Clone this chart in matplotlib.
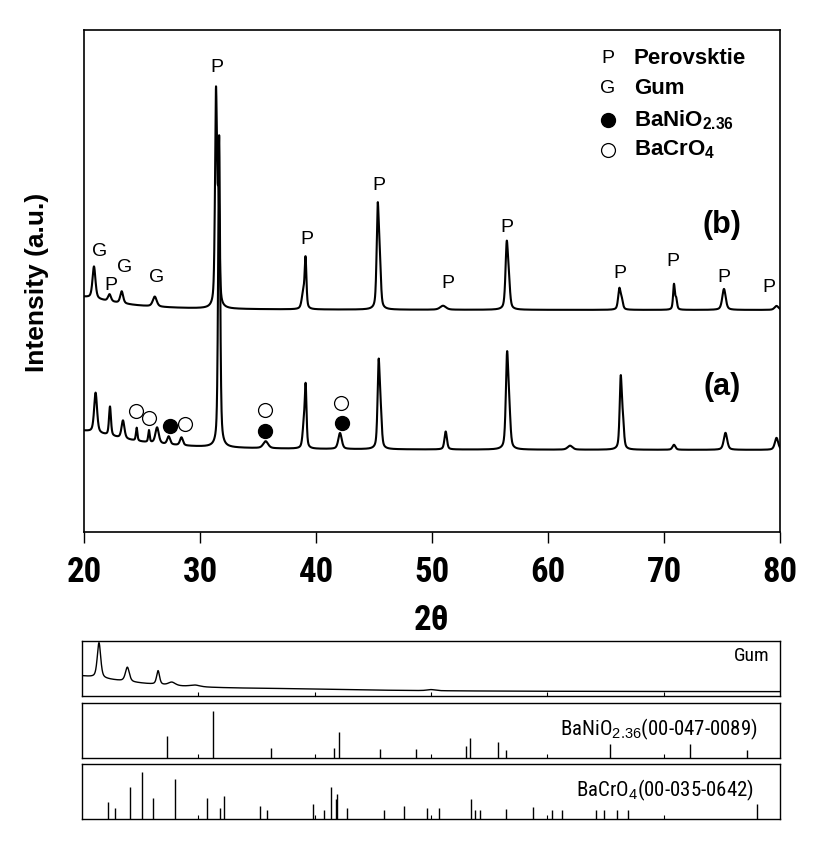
import numpy as np
import matplotlib
matplotlib.use("Agg")
import matplotlib.pyplot as plt
from matplotlib import font_manager as fm


def has_font(name):
    try:
        fm.findfont(fm.FontProperties(family=name), fallback_to_default=False)
        return True
    except Exception:
        return False


def pick_condensed():
    bold_names = {f.name for f in fm.fontManager.ttflist
                  if (isinstance(f.weight, int) and f.weight >= 700) or f.weight == "bold"}
    for cand in ["Liberation Sans Narrow", "Arial Narrow", "Roboto Condensed",
                 "Open Sans Condensed", "Noto Sans Condensed", "Asap Condensed",
                 "Barlow Semi Condensed", "Cabin Condensed"]:
        if cand in bold_names:
            return cand
    return "Liberation Sans" if has_font("Liberation Sans") else "DejaVu Sans"


SANS = "Liberation Sans" if has_font("Liberation Sans") else "DejaVu Sans"
NARROW = pick_condensed()
plt.rcParams["font.family"] = [SANS, "DejaVu Sans"]
plt.rcParams["mathtext.fontset"] = "custom"
plt.rcParams["mathtext.rm"] = SANS
plt.rcParams["mathtext.bf"] = SANS + ":bold"

# ---------------- data ----------------
X_MIN, X_MAX = 20, 80
x_ticks = [20, 30, 40, 50, 60, 70, 80]

# sample (a): background level, amorphous halo (centre, amplitude, hwhm), peaks
a_level = 82
a_halo = (19.0, 20.0, 5.0)
a_pos = [21.0, 22.24, 23.36, 24.54, 25.6, 26.3, 27.3, 28.4, 31.65, 35.66, 38.95, 39.11,
         42.07, 45.4, 45.58, 51.18, 56.47, 56.66, 61.9, 66.27, 66.46, 70.86, 75.3, 79.7]
a_height = [40, 29, 18, 13, 12, 16, 8, 8, 312, 7, 22, 58,
            16, 84, 30, 18, 90, 32, 4, 70, 24, 5, 17, 12]
a_fwhm = [0.3, 0.2, 0.3, 0.15, 0.15, 0.35, 0.3, 0.3, 0.2, 0.5, 0.25, 0.18,
          0.35, 0.22, 0.22, 0.25, 0.25, 0.25, 0.5, 0.22, 0.22, 0.3, 0.35, 0.35]

# sample (b)
b_level = 222
b_halo = (19.0, 14.0, 4.0)
b_pos = [20.86, 22.2, 23.25, 26.1, 31.38, 31.6, 38.9, 39.1, 45.32, 45.5, 50.95,
         56.44, 56.62, 66.15, 66.35, 70.86, 71.05, 75.17, 79.7]
b_height = [32, 7, 12, 10, 212, 100, 16, 48, 98, 42, 4,
            62, 24, 20, 9, 25, 10, 21, 4]
b_fwhm = [0.3, 0.3, 0.3, 0.4, 0.2, 0.2, 0.3, 0.18, 0.22, 0.22, 0.6,
          0.25, 0.25, 0.25, 0.25, 0.18, 0.18, 0.35, 0.4]

# phase markers on pattern (a)
bacro4_x = [24.45, 25.6, 28.7, 35.6, 42.15]
bacro4_y = [121, 114, 108, 122, 129]
banio_x = [27.4, 35.6, 42.2]
banio_y = [106, 101, 109]

# peak labels above the patterns
lbl_text = ["G", "P", "G", "G", "P", "P", "P", "P", "P", "P", "P", "P", "P"]
lbl_x = [21.32, 22.33, 23.47, 26.27, 31.44, 39.2, 45.43, 51.4, 56.49, 66.2, 70.8, 75.17, 79.0]
lbl_y = [280, 247, 264, 254, 464, 292, 347, 249, 305, 259, 270, 255, 245]

# Gum reference pattern
gum_level = 0.075
gum_halo = (18.0, 0.31, 7.0)
gum_hump = (38.0, 0.025, 8.0)
gum_pos = [21.46, 23.9, 26.54, 27.72, 29.7, 50.0]
gum_height = [0.64, 0.26, 0.25, 0.06, 0.03, 0.02]
gum_fwhm = [0.35, 0.4, 0.3, 0.7, 1.0, 0.8]

# BaNiO2.36 (00-047-0089) stick pattern
banio_pos = [27.27, 31.30, 36.26, 41.64, 42.09, 45.63, 48.69, 53.0, 53.36, 55.76,
             56.41, 65.36, 72.24, 77.17]
banio_int = [0.405, 0.863, 0.185, 0.185, 0.464, 0.167, 0.167, 0.22, 0.363, 0.286,
             0.149, 0.256, 0.256, 0.149]

# BaCrO4 (00-035-0642) stick pattern
bacro_pos = [22.23, 22.84, 24.10, 25.2, 26.14, 28.01, 30.74, 31.84, 32.24, 35.29,
             35.94, 39.89, 40.78, 41.43, 41.80, 41.96, 42.78, 45.95, 47.70, 49.65,
             50.67, 53.48, 53.76, 54.25, 56.45, 58.77, 60.44, 61.29, 64.22, 64.87,
             66.01, 66.91, 78.02]
bacro_int = [0.305, 0.198, 0.575, 0.862, 0.377, 0.719, 0.377, 0.198, 0.419, 0.234,
             0.162, 0.269, 0.162, 0.575, 0.359, 0.455, 0.198, 0.162, 0.234, 0.198,
             0.198, 0.359, 0.162, 0.162, 0.18, 0.216, 0.162, 0.162, 0.162, 0.162,
             0.162, 0.162, 0.269]


# ---------------- profile builder ----------------
tt = np.linspace(X_MIN, X_MAX, 6001)


def lorentz(x, c, amp, hwhm):
    return amp / (1.0 + ((x - c) / hwhm) ** 2)


def pattern(level, halos, pos, height, fwhm):
    y = np.full_like(tt, float(level))
    for c, amp, hw in halos:
        y += lorentz(tt, c, amp, hw)
    for c, h, w in zip(pos, height, fwhm):
        g = np.exp(-4 * np.log(2) * ((tt - c) / w) ** 2)
        l = 1.0 / (1.0 + ((tt - c) / (w / 2)) ** 2)
        y += h * (0.5 * g + 0.5 * l)
    return y


ya = pattern(a_level, [a_halo], a_pos, a_height, a_fwhm)
yb = pattern(b_level, [b_halo], b_pos, b_height, b_fwhm)
yg = pattern(gum_level, [gum_halo, gum_hump], gum_pos, gum_height, gum_fwhm)

# ---------------- figure ----------------
W, H = 836, 861
fig = plt.figure(figsize=(W / 100, H / 100), dpi=100)


def box(l, t, r, b):
    return [l / W, 1 - b / H, (r - l) / W, (b - t) / H]


ax = fig.add_axes(box(84, 30, 780, 532))
ax.plot(tt, ya, color="black", lw=1.5)
ax.plot(tt, yb, color="black", lw=1.5)
ax.plot(bacro4_x, bacro4_y, "o", ms=10, mfc="white", mec="black", mew=0.9, ls="none")
ax.plot(banio_x, banio_y, "o", ms=10, mfc="black", mec="black", ls="none")
for t, xx, yy in zip(lbl_text, lbl_x, lbl_y):
    ax.text(xx, yy, t, ha="center", va="center", fontsize=14, color="black")

ax.set_xlim(X_MIN, X_MAX)
ax.set_ylim(0, 502)
ax.set_yticks([])
ax.set_xticks(x_ticks)
ax.tick_params(axis="x", direction="out", length=8, width=1, pad=9, labelsize=25)
for lab in ax.get_xticklabels():
    lab.set_fontfamily([NARROW, "DejaVu Sans"])
    lab.set_fontweight("bold")
for s in ax.spines.values():
    s.set_linewidth(1.2)

# legend drawn by hand
leg_y = [0.944, 0.8825, 0.8207, 0.761]
ax.text(0.753, leg_y[0], "P", transform=ax.transAxes, ha="center", va="center", fontsize=14)
ax.text(0.753, leg_y[1], "G", transform=ax.transAxes, ha="center", va="center", fontsize=14)
ax.plot([0.753], [leg_y[2]], "o", ms=10, mfc="black", mec="black", transform=ax.transAxes)
ax.plot([0.753], [leg_y[3]], "o", ms=10, mfc="white", mec="black", mew=0.9, transform=ax.transAxes)
leg_txt = ["Perovsktie", "Gum", r"BaNiO$_\mathbf{2.36}$", r"BaCrO$_\mathbf{4}$"]
for t, yy in zip(leg_txt, leg_y):
    ax.text(0.790, yy, t, transform=ax.transAxes, ha="left", va="center",
            fontsize=16, fontweight="bold")

ax.text(0.9162, 0.6116, "(b)", transform=ax.transAxes, ha="center", va="center",
        fontsize=22, fontweight="bold")
ax.text(0.9162, 0.2894, "(a)", transform=ax.transAxes, ha="center", va="center",
        fontsize=22, fontweight="bold")

fig.text(37 / W, 1 - 282 / H, "Intensity (a.u.)", rotation=90, ha="center", va="center",
         fontsize=19, fontweight="bold")
fig.text(432 / W, 1 - 621 / H, "2θ", ha="center", va="center", fontsize=25,
         fontweight="bold", family=[NARROW, "DejaVu Sans"])

# ---------------- reference panels ----------------
axg = fig.add_axes(box(82, 641, 780, 696))
axn = fig.add_axes(box(82, 703, 780, 758))
axc = fig.add_axes(box(82, 764, 780, 819))

axg.plot(tt, yg, color="black", lw=1.0)
axn.vlines(banio_pos, 0, banio_int, color="black", lw=1.0)
axc.vlines(bacro_pos, 0, bacro_int, color="black", lw=1.0)

for a in (axg, axn, axc):
    a.set_xlim(X_MIN, X_MAX)
    a.set_ylim(0, 1)
    a.set_yticks([])
    a.set_xticks(x_ticks[1:-1])
    a.tick_params(axis="x", direction="in", length=3, width=0.8, labelbottom=False)
    for s in a.spines.values():
        s.set_linewidth(1.0)

small_family = [NARROW, SANS, "DejaVu Sans"]
axg.text(0.985, 0.72, "Gum", transform=axg.transAxes, ha="right", va="center",
         fontsize=14, family=small_family)
axn.text(0.968, 0.52, r"BaNiO$_{2.36}$(00-047-0089)", transform=axn.transAxes,
         ha="right", va="center", fontsize=15, family=small_family)
axc.text(0.963, 0.52, r"BaCrO$_{4}$(00-035-0642)", transform=axc.transAxes,
         ha="right", va="center", fontsize=15, family=small_family)

fig.savefig("out.png", dpi=100)
